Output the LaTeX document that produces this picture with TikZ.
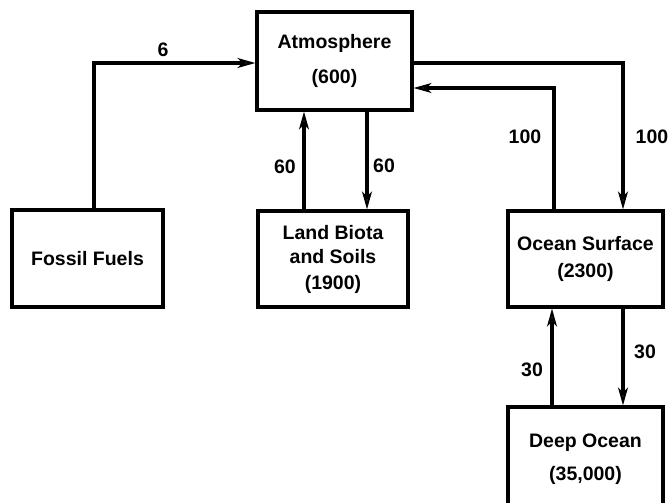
\documentclass[tikz,border=0pt]{standalone}
\usepackage{fontspec}
\setmainfont{Liberation Sans}
\usetikzlibrary{arrows.meta}
\begin{document}
\begin{tikzpicture}[x=1pt,y=-1pt,
  box/.style={draw,line width=3.2pt,inner sep=0pt,align=center,font=\bfseries\fontsize{19.5}{27}\selectfont},
  flow/.style={line width=3.2pt,-{Stealth[open,length=18pt,width=10pt,inset=5pt,line width=2.2pt]}},
  lab/.style={font=\bfseries\fontsize{19.5}{20}\selectfont,inner sep=0pt}]
\useasboundingbox (0,0) rectangle (670,503);
\fill[white] (0,0) rectangle (670,503);
\clip (0,0) rectangle (670,503);
\node[box,minimum width=155pt,minimum height=98pt] (atm) at (334.5,61) {Atmosphere\\[8pt](600)};
\node[box,minimum width=151pt,minimum height=97pt] (fossil) at (87.5,258.5) {Fossil Fuels};
\node[box,minimum width=150pt,minimum height=96pt] (land) at (333,259) {Land Biota\\[-3pt]and Soils\\[-1pt](1900)};
\node[box,minimum width=155pt,minimum height=96pt] (ocean) at (585.5,259) {Ocean Surface\\(2300)};
\node[box,minimum width=155pt,minimum height=105pt] (deep) at (585.5,459.5) {Deep Ocean\\[6pt](35,000)};
% connectors
\draw[flow] ([xshift=6.5pt]fossil.north) |- ([yshift=-2pt]atm.west);
\draw[flow] ([xshift=32.5pt]atm.south) -- ([xshift=32.5pt]atm.south |- land.north);
\draw[flow] ([xshift=-29pt]land.north) -- ([xshift=-29pt]land.north |- atm.south);
\draw[flow] ([yshift=-2pt]atm.east) -| ([xshift=37.5pt]ocean.north);
\draw[flow] ([xshift=-31.5pt]ocean.north) |- ([yshift=-27pt]atm.east);
\draw[flow] ([xshift=37.5pt]ocean.south) -- ([xshift=37.5pt]ocean.south |- deep.north);
\draw[flow] ([xshift=-33.5pt]deep.north) -- ([xshift=-33.5pt]deep.north |- ocean.south);
% labels
\node[lab] (l6) at (163,50) {6};
\node[lab] (l60a) at (285,167) {60};
\node[lab] (l60b) at (384,166) {60};
\node[lab] (l100a) at (525,137) {100};
\node[lab] (l100b) at (652,137) {100};
\node[lab] (l30a) at (532,370) {30};
\node[lab] (l30b) at (645,352) {30};
\end{tikzpicture}
\end{document}
